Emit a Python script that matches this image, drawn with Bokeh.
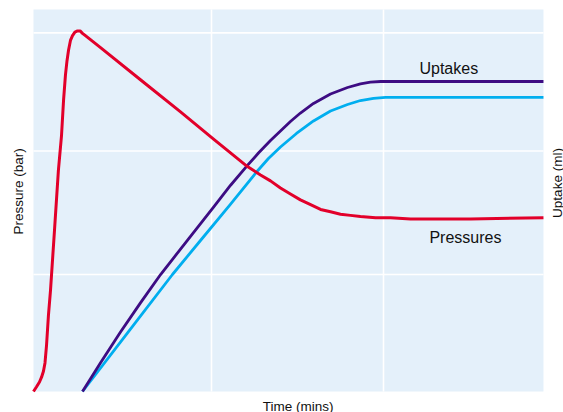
from bokeh.plotting import figure
from bokeh.models import Range1d, Label, BoxAnnotation
from bokeh.embed import file_html
from bokeh.resources import INLINE
import math

# Time (minutes) and pressure (bar)
pressure_time = [-0.35, -0.17, 0.00, 0.12, 0.23, 0.32, 0.41, 0.52, 0.64, 0.87, 1.10,
                 1.28, 1.40, 1.51, 1.60, 1.69, 1.80, 1.92, 2.06, 2.21, 2.36, 2.50,
                 2.67, 3.55, 5.87, 8.20, 10.12, 12.09, 12.85, 13.43, 14.01, 14.59,
                 15.17, 15.76, 16.34, 16.92, 17.50, 18.08, 18.66, 19.54, 20.41,
                 21.57, 25.06, 29.30]
pressure_bar = [0.00, 0.04, 0.08, 0.12, 0.17, 0.24, 0.39, 0.64, 0.85, 1.35, 1.86,
                2.15, 2.45, 2.66, 2.78, 2.87, 2.95, 2.99, 3.02, 3.03, 3.03, 3.01,
                2.99, 2.89, 2.62, 2.35, 2.12, 1.89, 1.82, 1.77, 1.71, 1.66,
                1.61, 1.57, 1.53, 1.51, 1.49, 1.48, 1.47, 1.46, 1.46,
                1.45, 1.45, 1.46]

# Uptake (ml), first series
uptake1_time = [2.50, 3.55, 4.71, 5.87, 7.04, 8.61, 10.12, 11.11, 12.09, 12.73, 13.43,
                14.01, 14.59, 15.17, 15.93, 16.92, 17.91, 18.66, 19.24, 19.83, 29.30]
uptake1_ml = [0.00, 3.02, 6.22, 9.28, 12.25, 15.85, 19.31, 21.60, 23.67, 24.97, 26.28,
              27.28, 28.27, 29.16, 30.16, 31.15, 31.83, 32.22, 32.39, 32.46, 32.46]

# Uptake (ml), second series
uptake2_time = [2.50, 5.12, 7.73, 9.36, 11.11, 12.67, 13.31, 14.01, 14.94, 15.93,
                16.92, 17.91, 18.66, 19.42, 20.12, 29.30]
uptake2_ml = [0.00, 6.13, 12.25, 15.81, 19.63, 23.09, 24.40, 25.60, 27.02, 28.33,
              29.37, 30.05, 30.47, 30.70, 30.79, 30.79]

# Grid positions
grid_times = [10, 20]
grid_pressures = [0.983, 2.021, 3.014]

# Extent of the shaded plotting area
T_MIN, T_MAX = -0.35, 29.30
P_MIN, P_MAX = 0.0, 3.21

FONT = "Liberation Sans"
BG = "#E4F0FA"
TEXT = "#111111"

p = figure(width=563, height=412, output_backend="svg", toolbar_location=None,
           x_range=Range1d(-2.267, 30.465), y_range=Range1d(-0.1765, 3.2857),
           x_axis_location=None, y_axis_location=None,
           min_border=0)
p.extra_y_ranges = {"uptake": Range1d(-2.199, 40.942)}
p.xgrid.visible = False
p.ygrid.visible = False
p.background_fill_color = "white"
p.border_fill_color = "white"
p.outline_line_color = None

p.add_layout(BoxAnnotation(left=T_MIN, right=T_MAX, bottom=P_MIN, top=P_MAX,
                           fill_color=BG, fill_alpha=1, line_color=None, level="image"))

# White grid lines inside the shaded area
p.segment(x0=grid_times, y0=[P_MIN] * len(grid_times), x1=grid_times, y1=[P_MAX] * len(grid_times),
          line_color="white", line_width=1.6)
p.segment(x0=[T_MIN] * len(grid_pressures), y0=grid_pressures, x1=[T_MAX] * len(grid_pressures),
          y1=grid_pressures, line_color="white", line_width=1.6)

p.line(uptake2_time, uptake2_ml, y_range_name="uptake", line_color="#00AEEF",
       line_width=2.8, line_join="round")
p.line(uptake1_time, uptake1_ml, y_range_name="uptake", line_color="#3D0C83",
       line_width=2.8, line_join="round")
p.line(pressure_time, pressure_bar, line_color="#E2002A", line_width=3, line_join="round")

p.add_layout(Label(x=22.09, y=2.712, text="Uptakes", text_font_size="16px",
                   text_font=FONT, text_color=TEXT, text_align="left", text_baseline="alphabetic"))
p.add_layout(Label(x=22.67, y=1.292, text="Pressures", text_font_size="16px",
                   text_font=FONT, text_color=TEXT, text_align="left", text_baseline="alphabetic"))

# Axis titles
p.add_layout(Label(x=15.03, y=-0.1294, text="Time (mins)", text_font_size="13.5px",
                   text_font=FONT, text_color=TEXT, text_align="center", text_baseline="alphabetic"))
p.add_layout(Label(x=-1.221, y=1.681, text="Pressure (bar)", text_font_size="13.5px",
                   text_font=FONT, text_color=TEXT, angle=math.pi / 2,
                   text_align="center", text_baseline="middle"))
p.add_layout(Label(x=30.105, y=1.752, text="Uptake (ml)", text_font_size="13.5px",
                   text_font=FONT, text_color=TEXT, angle=math.pi / 2,
                   text_align="center", text_baseline="middle"))

open("out.html", "w").write(file_html(p, INLINE))
